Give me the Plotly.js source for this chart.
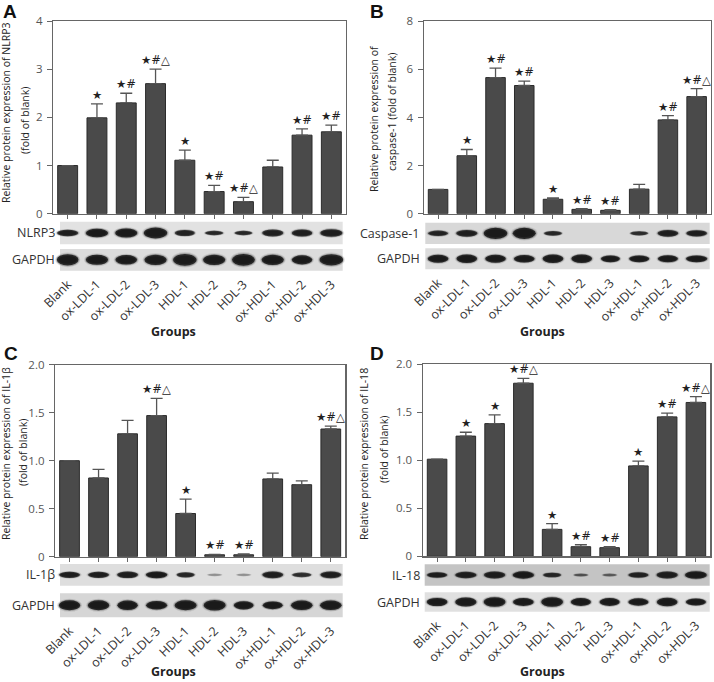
<!DOCTYPE html>
<html><head><meta charset="utf-8">
<script src="https://cdn.plot.ly/plotly-3.0.1.min.js"></script>
<style>html,body{margin:0;padding:0;background:#fff}#chart{width:714px;height:682px}</style>
</head><body><div id="chart"></div>
<script>
// ---------- DATA ----------
const groups = ['Blank','ox-LDL-1','ox-LDL-2','ox-LDL-3','HDL-1','HDL-2','HDL-3','ox-HDL-1','ox-HDL-2','ox-HDL-3'];

const nlrp3Mean  = [1.00, 1.99, 2.30, 2.70, 1.11, 0.46, 0.25, 0.97, 1.63, 1.70];
const nlrp3Sem   = [0, 0.29, 0.20, 0.30, 0.21, 0.13, 0.09, 0.14, 0.13, 0.14];
const nlrp3Marks = ['', '★', '★#', '★#△', '★', '★#', '★#△', '', '★#', '★#'];

const casp1Mean  = [1.01, 2.41, 5.66, 5.33, 0.60, 0.18, 0.14, 1.02, 3.90, 4.87];
const casp1Sem   = [0, 0.26, 0.39, 0.18, 0.06, 0.03, 0.03, 0.20, 0.18, 0.33];
const casp1Marks = ['', '★', '★#', '★#', '★', '★#', '★#', '', '★#', '★#△'];

const il1bMean  = [1.00, 0.82, 1.28, 1.47, 0.45, 0.02, 0.02, 0.81, 0.75, 1.33];
const il1bSem   = [0, 0.09, 0.14, 0.18, 0.15, 0.005, 0.01, 0.06, 0.04, 0.03];
const il1bMarks = ['', '', '', '★#△', '★', '★#', '★#', '', '', '★#△'];

const il18Mean  = [1.01, 1.25, 1.38, 1.80, 0.28, 0.10, 0.09, 0.94, 1.45, 1.60];
const il18Sem   = [0, 0.04, 0.09, 0.05, 0.06, 0.02, 0.01, 0.05, 0.04, 0.06];
const il18Marks = ['', '★', '★', '★#△', '★', '★#', '★#', '★', '★#', '★#△'];

// western blot bands: thickness (fraction of strip), width (fraction of lane), intensity
const nlrp3BandThick = [0.28, 0.38, 0.40, 0.48, 0.27, 0.20, 0.20, 0.30, 0.32, 0.34];
const nlrp3BandWidth = [0.72, 0.76, 0.76, 0.80, 0.68, 0.62, 0.60, 0.72, 0.70, 0.76];
const nlrp3BandInt   = [0.95, 1.00, 1.00, 1.00, 0.90, 0.85, 0.85, 0.92, 0.95, 0.95];
const gapdhABandThick = [0.52, 0.46, 0.44, 0.48, 0.55, 0.48, 0.55, 0.48, 0.42, 0.52];
const gapdhABandWidth = [0.74, 0.76, 0.74, 0.76, 0.80, 0.76, 0.78, 0.76, 0.70, 0.80];
const gapdhABandInt   = [1, 1, 1, 1, 1, 1, 1, 1, 1, 1];

const casp1BandThick = [0.26, 0.32, 0.52, 0.52, 0.22, 0.00, 0.00, 0.20, 0.32, 0.30];
const casp1BandWidth = [0.70, 0.74, 0.82, 0.80, 0.62, 0.00, 0.00, 0.62, 0.72, 0.72];
const casp1BandInt   = [0.90, 0.95, 1.00, 1.00, 0.85, 0.00, 0.00, 0.80, 0.95, 0.95];
const gapdhBBandThick = [0.38, 0.40, 0.38, 0.36, 0.40, 0.40, 0.32, 0.32, 0.34, 0.32];
const gapdhBBandWidth = [0.72, 0.72, 0.72, 0.72, 0.72, 0.72, 0.66, 0.70, 0.70, 0.74];
const gapdhBBandInt   = [1, 1, 1, 1, 1, 1, 1, 1, 1, 1];

const il1bBandThick = [0.28, 0.28, 0.30, 0.32, 0.24, 0.12, 0.12, 0.32, 0.22, 0.32];
const il1bBandWidth = [0.72, 0.72, 0.72, 0.74, 0.62, 0.50, 0.50, 0.72, 0.66, 0.72];
const il1bBandInt   = [0.95, 0.95, 0.95, 1.00, 0.85, 0.25, 0.25, 0.95, 0.80, 0.95];
const gapdhCBandThick = [0.42, 0.42, 0.40, 0.36, 0.42, 0.44, 0.34, 0.32, 0.40, 0.40];
const gapdhCBandWidth = [0.74, 0.74, 0.70, 0.72, 0.76, 0.76, 0.68, 0.68, 0.74, 0.74];
const gapdhCBandInt   = [1, 1, 1, 1, 1, 1, 1, 1, 1, 1];

const il18BandThick = [0.26, 0.30, 0.32, 0.34, 0.22, 0.14, 0.14, 0.26, 0.32, 0.36];
const il18BandWidth = [0.70, 0.74, 0.74, 0.74, 0.62, 0.50, 0.50, 0.70, 0.74, 0.76];
const il18BandInt   = [0.95, 0.95, 0.95, 1.00, 0.85, 0.50, 0.45, 0.90, 0.95, 1.00];
const gapdhDBandThick = [0.42, 0.46, 0.50, 0.40, 0.50, 0.40, 0.40, 0.38, 0.44, 0.36];
const gapdhDBandWidth = [0.72, 0.74, 0.76, 0.72, 0.76, 0.70, 0.70, 0.70, 0.72, 0.70];
const gapdhDBandInt   = [1, 1, 1, 1, 1, 1, 1, 1, 1, 1];

// ---------- LAYOUT GEOMETRY (pixels) ----------
const W = 714, H = 682;
const px = p => p / W, py = p => 1 - p / H;
const FONT = 'Open Sans, DejaVu Sans, sans-serif';

const panels = [
  { letter:'A', mean:nlrp3Mean, sem:nlrp3Sem, marks:nlrp3Marks, yRange:[0,4],
    yTickVals:[0,1,2,3,4], yTickText:['0','1','2','3','4'],
    title1:'Relative protein expression of NLRP3', title2:'(fold of blank)',
    blots:[{label:'NLRP3', t:nlrp3BandThick, w:nlrp3BandWidth, k:nlrp3BandInt, bg:'#e2e2e2'},
           {label:'GAPDH', t:gapdhABandThick, w:gapdhABandWidth, k:gapdhABandInt, bg:'#dcdcdc'}],
    g:{plotX:[53,346], barY:[21,213.7], s1Y:[221.7,244.3], s2Y:[249,270.7], stripX:[60,342.7],
       letterXY:[1,-1], t1:[6,113], t2:[25,121], groups:[173,331]} },
  { letter:'B', mean:casp1Mean, sem:casp1Sem, marks:casp1Marks, yRange:[0,8],
    yTickVals:[0,2,4,6,8], yTickText:['0','2','4','6','8'],
    title1:'Relative protein expression of', title2:'caspase-1 (fold of blank)',
    blots:[{label:'Caspase-1', t:casp1BandThick, w:casp1BandWidth, k:casp1BandInt, bg:'#d8d8d8'},
           {label:'GAPDH', t:gapdhBBandThick, w:gapdhBBandWidth, k:gapdhBBandInt, bg:'#dcdcdc'}],
    g:{plotX:[423.7,711], barY:[21.3,213.7], s1Y:[222.7,244], s2Y:[248.3,269.3], stripX:[425.3,709.7],
       letterXY:[368,-1], t1:[374,119], t2:[392,112], groups:[542,331]} },
  { letter:'C', mean:il1bMean, sem:il1bSem, marks:il1bMarks, yRange:[0,2],
    yTickVals:[0,0.5,1,1.5,2], yTickText:['0','0.5','1.0','1.5','2.0'],
    title1:'Relative protein expression of IL-1β', title2:'(fold of blank)',
    blots:[{label:'IL-1β', t:il1bBandThick, w:il1bBandWidth, k:il1bBandInt, bg:'#dedede'},
           {label:'GAPDH', t:gapdhCBandThick, w:gapdhCBandWidth, k:gapdhCBandInt, bg:'#d6d6d6'}],
    g:{plotX:[55,345.3], barY:[364.7,556.7], s1Y:[564,585.7], s2Y:[593.3,617.3], stripX:[60,342.7],
       letterXY:[2,341], t1:[6,454], t2:[23,452], groups:[173,671]} },
  { letter:'D', mean:il18Mean, sem:il18Sem, marks:il18Marks, yRange:[0,2],
    yTickVals:[0,0.5,1,1.5,2], yTickText:['0','0.5','1.0','1.5','2.0'],
    title1:'Relative protein expression of IL-18', title2:'(fold of blank)',
    blots:[{label:'IL-18', t:il18BandThick, w:il18BandWidth, k:il18BandInt, bg:'#c4c4c4'},
           {label:'GAPDH', t:gapdhDBandThick, w:gapdhDBandWidth, k:gapdhDBandInt, bg:'#e0e0e0'}],
    g:{plotX:[422.7,710.3], barY:[364,556.3], s1Y:[564.3,585.7], s2Y:[592.3,611.7], stripX:[424.7,709.7],
       letterXY:[368,341], t1:[364,454], t2:[384,450], groups:[542,671]} }
];

const traces = [], shapes = [], annotations = [];
const layout = {
  width: W, height: H, margin:{l:0,r:0,t:0,b:0},
  paper_bgcolor:'#ffffff', plot_bgcolor:'rgba(0,0,0,0)',
  showlegend:false, font:{family:FONT, color:'#333', size:12},
  hovermode:false
};
const axName = n => (n === 1 ? '' : String(n));
const idx = groups.map((_, i) => i);
// soft-edged band: layered ellipses (width scale, height scale, opacity factor)
const bandLayers = [[1.16, 1.30, 0.10], [1.08, 1.14, 0.22], [1.0, 1.0, 0.85], [0.86, 0.7, 0.6]];

panels.forEach((p, k) => {
  const g = p.g;
  const nb = 3*k + 1, n1 = 3*k + 2, n2 = 3*k + 3;
  const xd = [px(g.plotX[0]), px(g.plotX[1])];

  // bar subplot
  layout['xaxis' + axName(nb)] = {
    domain: xd, anchor: 'y' + axName(nb), range:[-0.5, 9.5],
    tickmode:'array', tickvals: idx, showticklabels:false,
    ticks:'outside', ticklen:4, tickcolor:'#666', tickwidth:1,
    showline:true, linecolor:'#666', linewidth:1.2, mirror:true,
    showgrid:false, zeroline:false, fixedrange:true
  };
  layout['yaxis' + axName(nb)] = {
    domain:[py(g.barY[1]), py(g.barY[0])], anchor:'x' + axName(nb), range:p.yRange,
    tickmode:'array', tickvals:p.yTickVals, ticktext:p.yTickText,
    ticks:'outside', ticklen:5, tickcolor:'#666', tickwidth:1,
    tickfont:{size:11.5, color:'#555', family:FONT}, ticklabelstandoff:2,
    showline:true, linecolor:'#666', linewidth:1.2, mirror:true,
    showgrid:false, zeroline:false, fixedrange:true
  };
  traces.push({
    type:'bar', x: idx, y: p.mean,
    xaxis:'x' + axName(nb), yaxis:'y' + axName(nb),
    width:0.68,
    marker:{color:'#4a4a4a', line:{color:'#2b2b2b', width:1}},
    error_y:{type:'data', symmetric:false, array:p.sem, arrayminus:p.sem.map(() => 0),
             color:'#555', thickness:1.3, width:6},
    hoverinfo:'skip'
  });
  // significance marks
  p.marks.forEach((m, i) => {
    if (!m) return;
    annotations.push({
      xref:'x' + axName(nb), yref:'y' + axName(nb), x:i, y:p.mean[i] + p.sem[i],
      text:m, showarrow:false, yanchor:'bottom', xanchor:'center', yshift:0,
      font:{size:11.5, color:'#222', family:'DejaVu Sans, sans-serif'}
    });
  });

  // blot strips
  [n1, n2].forEach((n, j) => {
    const b = p.blots[j];
    const sY = j === 0 ? g.s1Y : g.s2Y;
    const xa = {
      domain: xd, anchor:'y' + axName(n), range:[-0.5, 9.5],
      showgrid:false, zeroline:false, showline:false, ticks:'', fixedrange:true,
      showticklabels:false
    };
    if (j === 1) {
      Object.assign(xa, {
        showticklabels:true, tickmode:'array', tickvals: idx, ticktext: groups,
        tickangle:-45, tickfont:{size:12.5, color:'#333', family:FONT}, ticklabelstandoff:3
      });
    }
    layout['xaxis' + axName(n)] = xa;
    layout['yaxis' + axName(n)] = {
      domain:[py(sY[1]), py(sY[0])], anchor:'x' + axName(n), range:[0,1],
      visible:false, fixedrange:true
    };
    traces.push({type:'scatter', mode:'markers', x:[0, 9], y:[0.5, 0.5],
      xaxis:'x' + axName(n), yaxis:'y' + axName(n), marker:{opacity:0, size:1}, hoverinfo:'skip'});
    // strip background
    shapes.push({type:'rect', xref:'paper', yref:'paper',
      x0:px(g.stripX[0]), x1:px(g.stripX[1]), y0:py(sY[1]), y1:py(sY[0]),
      fillcolor:b.bg, line:{width:0}, layer:'above'});
    // bands
    idx.forEach(i => {
      if (b.t[i] <= 0 || b.k[i] <= 0) return;
      bandLayers.forEach(([sw, st, op]) => {
        shapes.push({type:'circle', xref:'x' + axName(n), yref:'y' + axName(n),
          x0:i - b.w[i]*sw/2, x1:i + b.w[i]*sw/2, y0:0.5 - b.t[i]*st/2, y1:0.5 + b.t[i]*st/2,
          fillcolor:`rgba(18,18,18,${(op*b.k[i]).toFixed(3)})`, line:{width:0}, layer:'above'});
      });
    });
    // blot label
    annotations.push({xref:'paper', yref:'paper', x:px(g.stripX[0] - 3), y:py((sY[0] + sY[1]) / 2),
      text:b.label, showarrow:false, xanchor:'right', yanchor:'middle',
      font:{size:12.5, color:'#333', family:FONT}});
  });

  // panel letter
  annotations.push({xref:'paper', yref:'paper', x:px(g.letterXY[0]), y:py(g.letterXY[1]),
    text:'<b>' + p.letter + '</b>', showarrow:false, xanchor:'left', yanchor:'top',
    font:{size:19, color:'#111', family:'Liberation Sans, Arial, sans-serif'}});
  // y titles
  annotations.push({xref:'paper', yref:'paper', x:px(g.t1[0]), y:py(g.t1[1]),
    text:p.title1, textangle:-90, showarrow:false, xanchor:'center', yanchor:'middle',
    font:{size:10.5, color:'#222', family:FONT}});
  annotations.push({xref:'paper', yref:'paper', x:px(g.t2[0]), y:py(g.t2[1]),
    text:p.title2, textangle:-90, showarrow:false, xanchor:'center', yanchor:'middle',
    font:{size:10.5, color:'#222', family:FONT}});
  // Groups
  annotations.push({xref:'paper', yref:'paper', x:px(g.groups[0]), y:py(g.groups[1]),
    text:'<b>Groups</b>', showarrow:false, xanchor:'center', yanchor:'middle',
    font:{size:12.5, color:'#222', family:FONT}});
});

layout.shapes = shapes;
layout.annotations = annotations;
Plotly.newPlot('chart', traces, layout, {staticPlot:true, displayModeBar:false});
</script></body></html>
